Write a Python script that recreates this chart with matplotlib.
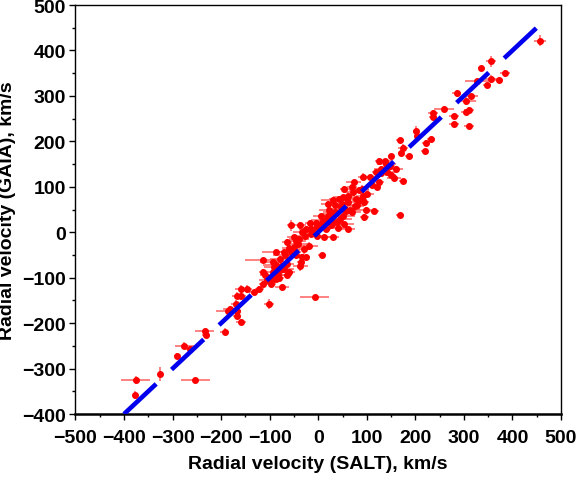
import matplotlib
matplotlib.use("Agg")
import matplotlib.pyplot as plt
from matplotlib.ticker import MultipleLocator

plt.rcParams['font.family'] = ['Liberation Sans', 'DejaVu Sans']
plt.rcParams['font.weight'] = 'bold'

# Radial velocity SALT (x), GAIA (y), and their errors (km/s)
rv_salt = [457, 356, 335, 384, 372, 347, 356, 327, 304, 285, 314, 310, 304, 310, 279, 279,
           259, 236, 236, 202, 203, 232, 221, 219, 187, 168, 174, 171, 150, 147, 126, 137,
           141, 130, 118, 149, 156, 175, 120, 126, 107, 92, 73, 69, 84, 92, 95, 77,
           61, 50, 54, 61, 42, 31, 20, 35, 46, 58, 69, 115, 99, 95, 169, 50,
           27, 39, 54, 61, 27, 16, 5, -3, -18, -26, -33, -14, -3, 12, 31, -56,
           -37, -49, -64, -41, -30, -49, -56, -71, -86, -33, -26, -37, -35, -79, -94, -64,
           -76, -91, -79, -94, -83, -60, -64, -113, -113, -110, -106, -94, -86, -98, -113, -121,
           -132, -75, 8, -7, -102, -147, -159, -167, -159, -170, -185, -182, -167, -167, -159, -193,
           -234, -231, -276, -264, -291, -325, -253, -376, -377,
           80, 65, 45, 25, 10, -10, -20, -45, -52, -68, -80, 100, 110, 130, 40, 20, -5, -40, 60, 85,
           35, 48, 72, 15, -28, -60, -70, -88, 5, 22, 56, 90, 140, 160, -15, -45, 75, 28]
rv_gaia = [421, 376, 361, 350, 335, 324, 337, 333, 289, 306, 299, 269, 264, 234, 238, 255,
           272, 262, 253, 223, 212, 206, 197, 179, 167, 202, 185, 175, 168, 146, 157, 156,
           132, 130, 133, 126, 120, 113, 100, 110, 121, 122, 110, 99, 93, 80, 66, 73,
           80, 77, 95, 66, 73, 70, 62, 59, 55, 47, 44, 47, 49, 33, 38, 36,
           29, 22, 18, 7, 15, 7, 18, 11, 20, 7, 0, -4, -8, -11, -11, 15,
           15, -11, -22, -26, -37, -33, -44, -44, -44, -55, -55, -74, -66, -59, -66, -70,
           -74, -77, -84, -88, -95, -88, -95, -62, -88, -95, -106, -103, -103, -114, -114, -125,
           -132, -121, -51, -143, -158, -125, -125, -140, -140, -158, -173, -169, -173, -184, -198, -219,
           -218, -227, -250, -256, -272, -312, -325, -325, -358,
           60, 50, 30, 40, 25, 0, -30, -20, -40, -50, -100, 85, 105, 140, 10, 35, 20, -15, 75, 70,
           45, 62, 88, 28, -8, -35, -80, -72, 35, 48, 52, 95, 150, 140, 8, -50, 58, 18]
err_salt = [12, 10, 6, 10, 8, 8, 12, 25, 20, 10, 15, 10, 10, 10, 10, 10,
            20, 10, 8, 6, 6, 8, 8, 8, 8, 8, 10, 6, 6, 12, 10, 15,
            20, 10, 8, 12, 15, 8, 10, 10, 12, 10, 15, 10, 20, 15, 10, 20,
            15, 20, 10, 15, 20, 25, 15, 20, 15, 20, 20, 10, 12, 10, 8, 25,
            20, 15, 20, 15, 20, 10, 20, 15, 10, 12, 20, 10, 15, 12, 12, 8,
            12, 15, 10, 25, 12, 15, 20, 15, 30, 15, 10, 15, 8, 20, 25, 15,
            15, 20, 10, 15, 15, 12, 10, 38, 10, 10, 15, 12, 10, 12, 10, 10,
            10, 15, 8, 30, 10, 10, 12, 10, 10, 10, 25, 15, 8, 8, 10, 10,
            20, 8, 20, 8, 6, 5, 30, 30, 4,
            15, 20, 25, 20, 15, 15, 20, 20, 15, 25, 10, 15, 12, 15, 20, 20, 15, 20, 20, 15,
            25, 15, 20, 30, 20, 15, 20, 25, 15, 20, 30, 15, 20, 15, 25, 15, 20, 25]
err_gaia = [12, 12, 5, 8, 6, 5, 8, 5, 8, 8, 6, 6, 6, 5, 5, 5,
            5, 8, 5, 10, 8, 6, 6, 5, 5, 5, 10, 6, 5, 5, 6, 5,
            6, 5, 5, 5, 6, 5, 5, 5, 6, 8, 6, 6, 6, 8, 6, 5,
            8, 6, 6, 5, 6, 8, 6, 6, 5, 6, 6, 6, 6, 8, 5, 6,
            6, 5, 6, 6, 8, 6, 5, 6, 8, 6, 5, 5, 6, 6, 5, 12,
            8, 6, 8, 6, 10, 6, 6, 8, 5, 6, 8, 12, 6, 6, 8, 6,
            8, 6, 5, 6, 6, 8, 6, 5, 8, 6, 6, 8, 6, 6, 6, 6,
            5, 6, 6, 5, 12, 8, 8, 8, 10, 8, 6, 6, 10, 8, 6, 8,
            6, 6, 8, 6, 6, 15, 4, 8, 8,
            6, 6, 8, 6, 6, 6, 8, 6, 6, 6, 8, 6, 6, 6, 6, 8, 6, 6, 6, 6,
            6, 8, 6, 6, 8, 6, 6, 8, 6, 6, 6, 8, 6, 6, 6, 8, 6, 6]

# 1:1 reference line
line_x = [-400, 455]
line_y = [-400, 455]

fig = plt.figure(figsize=(5.78, 4.81), dpi=100)
ax = fig.add_axes([0.1306, 0.1372, 0.8400, 0.8503])

ax.errorbar(rv_salt, rv_gaia, xerr=err_salt, yerr=err_gaia, fmt='o', color='#ff0000',
            ms=4.0, mec='#ff0000', ecolor=(1.0, 0.3, 0.3, 0.7), elinewidth=1.4,
            capsize=0, zorder=3)
ax.plot(line_x, line_y, color='#0000ee', lw=3.3, dashes=(9.6, 4.6),
        solid_capstyle='butt', dash_capstyle='butt', zorder=4)

ax.set_xlim(-500, 500)
ax.set_ylim(-400, 500)
ax.xaxis.set_major_locator(MultipleLocator(100))
ax.xaxis.set_minor_locator(MultipleLocator(50))
ax.yaxis.set_major_locator(MultipleLocator(100))
ax.yaxis.set_minor_locator(MultipleLocator(50))
ax.tick_params(which='major', direction='out', length=4, width=1, labelsize=14, pad=7)
ax.tick_params(axis='y', which='major', pad=3)
ax.tick_params(which='minor', direction='out', length=2.5, width=1)
for lab in ax.get_xticklabels() + ax.get_yticklabels():
    lab.set_fontweight('bold')

for s in ['left', 'top', 'right']:
    ax.spines[s].set_linewidth(1.0)
ax.spines['bottom'].set_linewidth(1.8)

ax.set_xlabel('Radial velocity (SALT), km/s', fontsize=14, fontweight='bold', labelpad=6)
ax.set_ylabel('Radial velocity (GAIA), km/s', fontsize=14, fontweight='bold', labelpad=4)

fig.savefig('out.png', dpi=100)
